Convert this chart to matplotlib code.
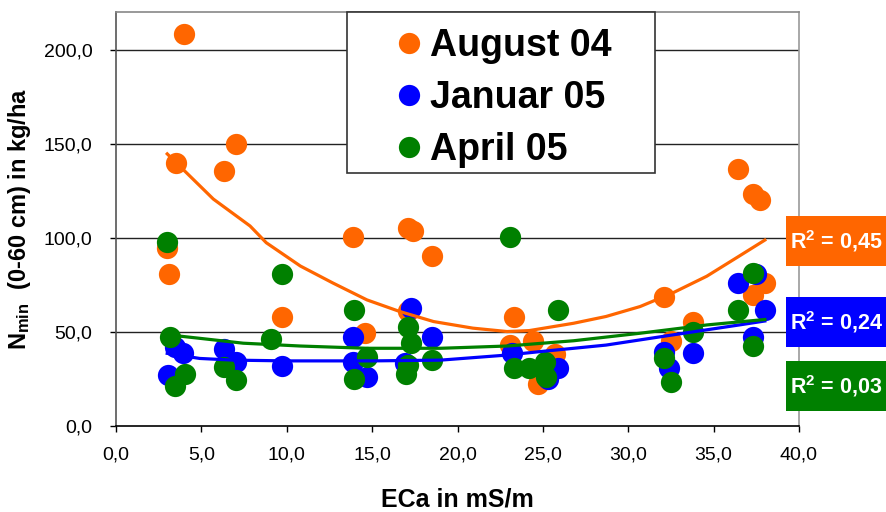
import numpy as np
import matplotlib
matplotlib.use("Agg")
import matplotlib.pyplot as plt
from matplotlib.patches import Rectangle
from matplotlib.ticker import FuncFormatter, MultipleLocator

plt.rcParams['font.family'] = ['Liberation Sans', 'DejaVu Sans']
plt.rcParams['mathtext.fontset'] = 'custom'
plt.rcParams['mathtext.rm'] = 'Liberation Sans'
plt.rcParams['mathtext.bf'] = 'Liberation Sans:bold'
plt.rcParams['mathtext.it'] = 'Liberation Sans:italic'

# Messpunkte (ECa, Nmin)
aug_x = [4.0, 3.5, 6.3, 7.0, 13.9, 17.1, 17.4, 18.5, 3.0, 3.1, 9.7, 14.6, 17.1,
         23.3, 23.1, 24.4, 24.7, 25.7, 32.1, 32.5, 33.8, 36.4, 37.3, 37.7, 37.3, 38.0]
aug_y = [208.5, 139.5, 135.5, 150.0, 100.5, 105.0, 103.5, 90.5, 94.5, 81.0, 58.0, 49.5, 61.0,
         58.0, 43.0, 45.0, 22.5, 38.5, 68.5, 45.0, 55.5, 136.5, 123.5, 120.0, 69.5, 76.0]

jan_x = [3.45, 3.95, 3.05, 6.3, 7.0, 9.7, 13.9, 13.9, 14.7, 17.3, 16.9, 18.5,
         23.2, 25.9, 25.3, 32.1, 32.4, 33.8, 36.4, 37.5, 38.0, 37.3]
jan_y = [42.0, 38.6, 27.0, 41.0, 34.0, 32.0, 47.3, 34.0, 26.0, 62.8, 33.4, 47.3,
         38.6, 30.6, 25.2, 39.5, 30.7, 38.8, 76.0, 81.0, 61.8, 47.2]

apr_x = [3.0, 3.15, 4.05, 3.45, 9.7, 9.1, 6.3, 7.0, 13.95, 13.95, 14.7, 17.1, 17.3, 17.1,
         17.0, 18.5, 23.1, 25.9, 23.3, 24.2, 25.1, 25.2, 33.8, 32.1, 32.5, 36.4, 37.3, 37.3]
apr_y = [97.8, 47.2, 27.7, 21.5, 81.0, 46.0, 31.5, 24.3, 61.8, 25.2, 36.8, 52.8, 44.0, 32.3,
         27.5, 35.0, 100.6, 61.4, 30.6, 30.6, 34.1, 26.1, 50.2, 36.0, 23.4, 61.8, 81.4, 42.5]

# Trendlinien
aug_tx = [3.0, 5.7, 7.85, 8.8, 10.8, 12.7, 14.7, 16.6, 18.6, 20.9, 22.9, 24.2, 26.8, 28.7, 30.7, 32.6, 34.6, 36.5, 38.0]
aug_ty = [144.6, 120.6, 106.3, 97.4, 85.0, 76.0, 67.0, 60.9, 55.5, 52.0, 50.2, 50.7, 54.6, 58.2, 63.5, 70.7, 79.6, 90.3, 98.8]

jan_tx = [3.0, 4.9, 6.9, 10.0, 15.0, 19.0, 22.9, 24.8, 28.7, 32.6, 36.5, 38.0]
jan_ty = [38.6, 35.9, 35.0, 34.6, 34.6, 35.0, 37.7, 39.5, 43.0, 48.4, 53.7, 55.8]

apr_tx = [3.1, 4.9, 7.45, 10.8, 14.7, 19.0, 22.9, 26.8, 30.7, 34.6, 38.0]
apr_ty = [48.4, 46.6, 44.0, 42.5, 41.3, 41.3, 42.5, 45.3, 49.3, 53.7, 56.6]

labels = ["August 04", "Januar 05", "April 05"]
r2_text = ["0,45", "0,24", "0,03"]
colors = ["#FF6600", "#0000FF", "#008000"]

W, H = 887, 512
fig = plt.figure(figsize=(W / 100, H / 100), dpi=100)
ax = fig.add_axes([116 / W, 1 - 426 / H, 683 / W, 414 / H])

series = [(aug_x, aug_y), (jan_x, jan_y), (apr_x, apr_y)]
for (sx, sy), c, lab in zip(series, colors, labels):
    ax.plot(sx, sy, 'o', color=c, markersize=15.3, markeredgewidth=0, label=lab, zorder=3)

trends = [(aug_tx, aug_ty), (jan_tx, jan_ty), (apr_tx, apr_ty)]
for (tx, ty), c in zip(trends, colors):
    ax.plot(tx, ty, '-', color=c, linewidth=2.3, zorder=4)

ax.set_xlim(0, 40)
ax.set_ylim(0, 220)
ax.xaxis.set_major_locator(MultipleLocator(5))
ax.yaxis.set_major_locator(MultipleLocator(50))
fmt = FuncFormatter(lambda v, p: f"{v:.1f}".replace(".", ","))
ax.xaxis.set_major_formatter(fmt)
ax.yaxis.set_major_formatter(fmt)
ax.tick_params(axis='both', labelsize=14, direction='out', length=4, width=1, color='black')
ax.tick_params(axis='x', pad=11)
ax.tick_params(axis='y', pad=13)

for yv in [50, 100, 150, 200]:
    ax.axhline(yv, color='#222222', linewidth=1, zorder=1)

ax.spines['bottom'].set_color('black')
ax.spines['left'].set_color('#555555')
ax.spines['top'].set_color('#888888')
ax.spines['right'].set_color('#999999')
for s in ax.spines.values():
    s.set_linewidth(1.2)

ax.set_xlabel("ECa in mS/m", fontsize=18, fontweight='bold', labelpad=17)
ax.set_ylabel(r"$\mathbf{N_{min}}$  (0-60 cm) in kg/ha", fontsize=17, fontweight='bold', labelpad=8)

# Legende: Rahmen separat, Eintraege ohne Rahmen
ax.add_patch(Rectangle((347 / W, 1 - 173 / H), 308 / W, 161 / H, transform=fig.transFigure,
                       facecolor='white', edgecolor='#333333', linewidth=1.2, zorder=5,
                       clip_on=False))
leg = ax.legend(loc='upper left', bbox_to_anchor=((394 - 116) / 683, (426 - 28) / 414),
                borderaxespad=0, borderpad=0, frameon=False,
                prop={'weight': 'bold', 'size': 27},
                handlelength=0.8, handletextpad=0.16, labelspacing=0.43)
leg.set_zorder(6)

# R²-Kaesten rechts
box_tops = [216, 297, 361]
for top, c, r in zip(box_tops, colors, r2_text):
    fig.patches.append(Rectangle((786 / W, 1 - (top + 50) / H), 110 / W, 50 / H,
                                 transform=fig.transFigure, facecolor=c, edgecolor='none'))
    fig.text(790 / W, 1 - (top + 25) / H, r"R$^{\mathbf{2}}$ = " + r, color='white',
             fontsize=15.5, fontweight='bold', va='center', ha='left')

fig.savefig("out.png", dpi=100)
